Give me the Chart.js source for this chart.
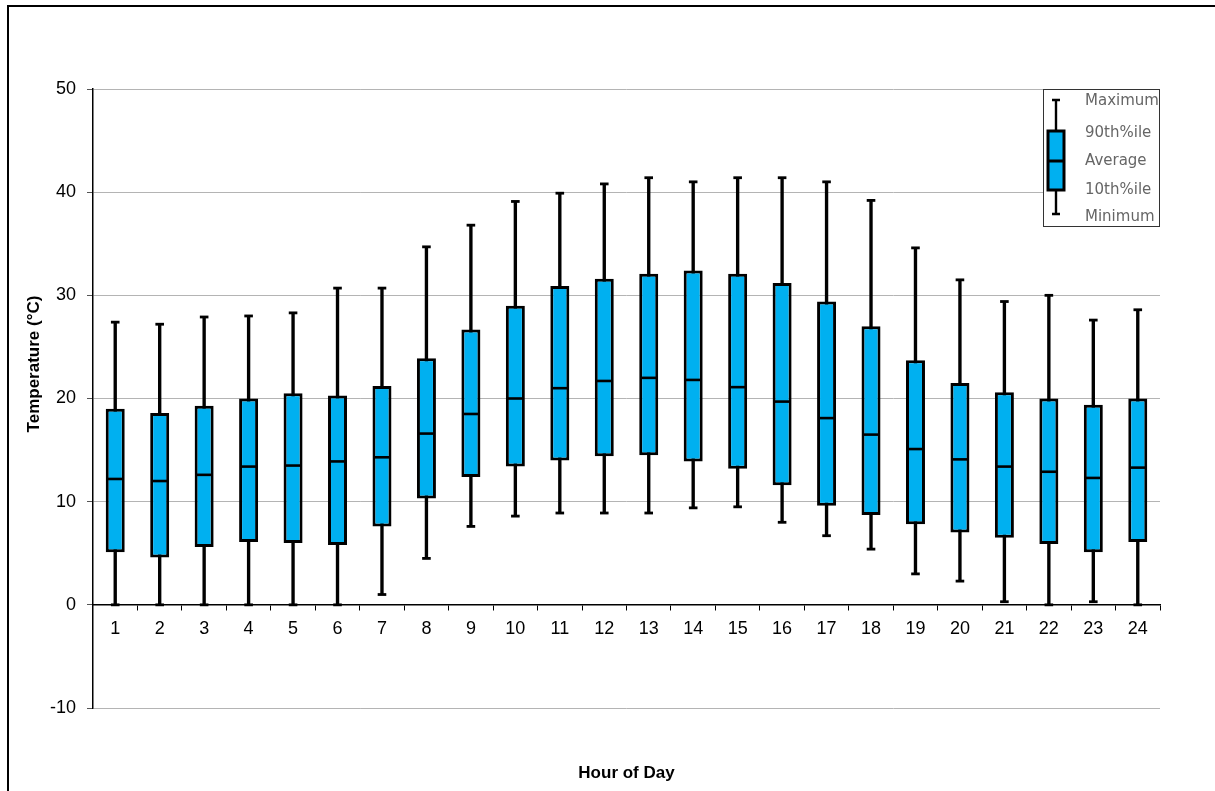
<!DOCTYPE html>
<html>
<head>
<meta charset="utf-8">
<title>Hourly temperature distribution</title>
<script src="https://cdn.jsdelivr.net/npm/chart.js@4.4.1/dist/chart.umd.min.js"></script>
<style>
  html, body { margin: 0; padding: 0; background: #fff; overflow: hidden; }
  #wrap { position: relative; width: 1215px; height: 791px; }
  #frame { position: absolute; left: 7px; top: 5px; width: 1400px; height: 1000px;
           border: 2px solid #000; box-sizing: border-box; pointer-events: none; }
  canvas { position: absolute; left: 0; top: 0; }
</style>
</head>
<body>
<div id="wrap">
  <canvas id="chart" width="1215" height="791"></canvas>
  <div id="frame"></div>
</div>
<script>
// Hour of day categories
const hours = ['1','2','3','4','5','6','7','8','9','10','11','12',
               '13','14','15','16','17','18','19','20','21','22','23','24'];

// Temperature statistics per hour (°C)
const maxTemp = [27.4, 27.2, 27.9, 28.0, 28.3, 30.7, 30.7, 34.7, 36.8, 39.1, 39.9, 40.8,
                 41.4, 41.0, 41.4, 41.4, 41.0, 39.2, 34.6, 31.5, 29.4, 30.0, 27.6, 28.6];
const p90 =     [19.0, 18.6, 19.3, 20.0, 20.5, 20.3, 21.2, 23.9, 26.7, 29.0, 30.9, 31.6,
                 32.1, 32.4, 32.1, 31.2, 29.4, 27.0, 23.7, 21.5, 20.6, 20.0, 19.4, 20.0];
const avgTemp = [12.2, 12.0, 12.6, 13.4, 13.5, 13.9, 14.3, 16.6, 18.5, 20.0, 21.0, 21.7,
                 22.0, 21.8, 21.1, 19.7, 18.1, 16.5, 15.1, 14.1, 13.4, 12.9, 12.3, 13.3];
const p10 =     [5.1, 4.6, 5.6, 6.1, 6.0, 5.8, 7.6, 10.3, 12.4, 13.4, 14.0, 14.4,
                 14.5, 13.9, 13.2, 11.6, 9.6, 8.7, 7.8, 7.0, 6.5, 5.9, 5.1, 6.1];
const minTemp = [0, 0, 0, 0, 0, 0, 1.0, 4.5, 7.6, 8.6, 8.9, 8.9,
                 8.9, 9.4, 9.5, 8.0, 6.7, 5.4, 3.0, 2.3, 0.3, 0, 0.3, 0];

// Value axis ticks
const yMin = -10, yMax = 50, yStep = 10;

// Legend entries (top to bottom)
const legendLabels = ['Maximum', '90th%ile', 'Average', '10th%ile', 'Minimum'];

const BOX_BLUE = '#00b0f0';
const SANS = "'Liberation Sans', Arial, sans-serif";
Chart.defaults.font.family = SANS;

// Axis titles and the box-plot key, drawn on top of the chart
const decorations = {
  id: 'decorations',
  afterDraw(chart) {
    const ctx = chart.ctx;
    const area = chart.chartArea;
    ctx.save();
    ctx.fillStyle = '#000';
    ctx.font = 'bold 17px ' + SANS;
    // x axis title
    ctx.textAlign = 'center';
    ctx.textBaseline = 'alphabetic';
    ctx.fillText('Hour of Day', (area.left + area.right) / 2, 778);
    // y axis title
    ctx.translate(38.5, 364);
    ctx.rotate(-Math.PI / 2);
    ctx.fillText('Temperature (\u00B0C)', 0, 0);
    ctx.restore();

    // key
    const kx = 1043.5, ky = 89.5, kw = 116, kh = 137;
    ctx.save();
    ctx.fillStyle = '#fff';
    ctx.fillRect(kx, ky, kw, kh);
    ctx.strokeStyle = '#333';
    ctx.lineWidth = 1;
    ctx.strokeRect(kx, ky, kw, kh);
    ctx.beginPath();
    ctx.rect(kx, ky, kw, kh);
    ctx.clip();

    const cx = 1056, yTop = 100, yQ9 = 131, yAvg = 161, yQ1 = 190, yBot = 214;
    ctx.strokeStyle = '#000';
    ctx.lineWidth = 2.4;
    ctx.beginPath();
    ctx.moveTo(cx, yTop); ctx.lineTo(cx, yBot);
    ctx.moveTo(cx - 4, yTop); ctx.lineTo(cx + 4, yTop);
    ctx.moveTo(cx - 4, yBot); ctx.lineTo(cx + 4, yBot);
    ctx.stroke();
    ctx.fillStyle = BOX_BLUE;
    ctx.lineWidth = 3;
    ctx.fillRect(1048, yQ9, 16, yQ1 - yQ9);
    ctx.strokeRect(1048, yQ9, 16, yQ1 - yQ9);
    ctx.beginPath();
    ctx.moveTo(1048, yAvg); ctx.lineTo(1064, yAvg);
    ctx.stroke();

    ctx.fillStyle = '#666';
    ctx.font = "15px 'DejaVu Sans', Verdana, sans-serif";
    ctx.textAlign = 'left';
    ctx.textBaseline = 'middle';
    const ys = [yTop + 1, yQ9 + 2, yAvg, yQ1, yBot + 3];
    legendLabels.forEach((t, i) => ctx.fillText(t, 1085, ys[i]));
    ctx.restore();
  }
};

new Chart(document.getElementById('chart'), {
  type: 'bar',
  data: {
    labels: hours,
    datasets: [
      {
        label: 'Average',
        type: 'line',
        data: avgTemp,
        showLine: false,
        pointStyle: 'line',
        pointRadius: 8.5,
        pointHoverRadius: 8.5,
        pointBorderWidth: 2.6,
        pointBorderColor: '#000',
        borderColor: '#000',
        order: 0
      },
      {
        label: 'Maximum',
        type: 'line',
        data: maxTemp,
        showLine: false,
        pointStyle: 'line',
        pointRadius: 4.3,
        pointHoverRadius: 4.3,
        pointBorderWidth: 2.8,
        pointBorderColor: '#000',
        borderColor: '#000',
        order: 0
      },
      {
        label: 'Minimum',
        type: 'line',
        data: minTemp,
        showLine: false,
        pointStyle: 'line',
        pointRadius: 4.3,
        pointHoverRadius: 4.3,
        pointBorderWidth: 2.8,
        pointBorderColor: '#000',
        borderColor: '#000',
        order: 0
      },
      {
        label: '10th%ile to 90th%ile',
        data: p10.map((v, i) => [v, p90[i]]),
        backgroundColor: BOX_BLUE,
        borderColor: '#000',
        borderWidth: 3,
        borderSkipped: false,
        inflateAmount: 0,
        barThickness: 19,
        grouped: false,
        order: 1
      },
      {
        label: 'Range',
        data: minTemp.map((v, i) => [v, maxTemp[i]]),
        backgroundColor: '#000',
        borderWidth: 0,
        barThickness: 2.7,
        grouped: false,
        order: 2
      }
    ]
  },
  options: {
    responsive: false,
    animation: false,
    events: [],
    layout: { padding: { left: 0, top: 89, right: 55, bottom: 83 } },
    plugins: {
      legend: { display: false },
      tooltip: { enabled: false },
      title: { display: false }
    },
    scales: {
      x: {
        type: 'category',
        position: { y: 0 },
        offset: true,
        grid: {
          display: true,
          drawOnChartArea: false,
          drawTicks: true,
          tickLength: 5,
          offset: true,
          color: '#000',
          lineWidth: 1
        },
        border: { display: true, color: '#000', width: 1.5 },
        ticks: { color: '#000', font: { size: 18 }, padding: 8, maxRotation: 0, autoSkip: false }
      },
      y: {
        min: yMin,
        max: yMax,
        position: 'left',
        afterFit(scale) { scale.width = 93; },
        grid: {
          color: '#b4b4b4',
          lineWidth: 1,
          drawTicks: true,
          tickLength: 6,
          tickColor: '#555'
        },
        border: { display: true, color: '#000', width: 1.5 },
        ticks: { stepSize: yStep, color: '#000', font: { size: 18 }, padding: 11 }
      }
    }
  },
  plugins: [decorations]
});
</script>
</body>
</html>
